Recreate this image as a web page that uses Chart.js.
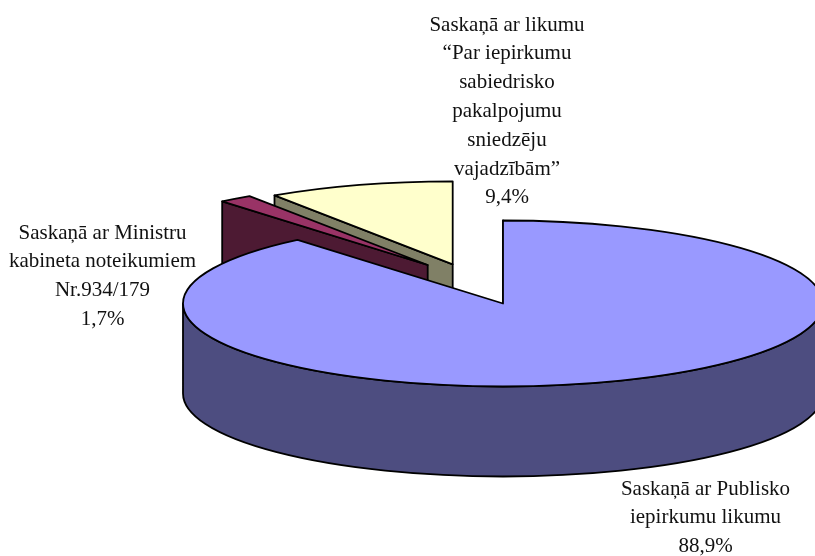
<!DOCTYPE html>
<html>
<head>
<meta charset="utf-8">
<title>Iepirkumi</title>
<script src="https://cdn.jsdelivr.net/npm/chart.js@4"></script>
<style>
    html, body { margin: 0; padding: 0; background: #fff; overflow: hidden; }
    canvas { display: block; }
</style>
</head>
<body>
<canvas id="pieChart" width="815" height="556"></canvas>
<script>
const categories = [
    'Saskaņā ar Publisko iepirkumu likumu',
    'Saskaņā ar Ministru kabineta noteikumiem Nr.934/179',
    'Saskaņā ar likumu “Par iepirkumu sabiedrisko pakalpojumu sniedzēju vajadzībām”',
];
const values = [88.9, 1.7, 9.4];

const labelLines = [
    ['Saskaņā ar Publisko', 'iepirkumu likumu'],
    ['Saskaņā ar Ministru', 'kabineta noteikumiem', 'Nr.934/179'],
    ['Saskaņā ar likumu', '“Par iepirkumu', 'sabiedrisko', 'pakalpojumu', 'sniedzēju', 'vajadzībām”'],
];

// styling of the fake 3d pie
const topColors = ['#9999ff', '#993366', '#ffffcc'];
const sideColors = ['#4d4d80', '#4d1a33', '#808066'];
const shiftX = [0, -75.3, -50.3];   // exploded slices
const shiftY = [0, -38.5, -39.2];
const squash = 83 / 320;
const depth = 90;
const labelPos = [[705.5, 489], [102.5, 233], [507, 25]];
const lineGap = 28.8;

function squashedArc(ctx, cx, cy, r, from, to) {
    // path gets squashed, the pen stays round
    ctx.save();
    ctx.translate(cx, cy);
    ctx.scale(1, squash);
    ctx.arc(0, 0, r, from, to, from > to);
    ctx.restore();
}

function drawSlice(ctx, arc, i) {
    const cx = arc.x + shiftX[i];
    const cy = arc.y + shiftY[i];
    const r = arc.outerRadius;
    const start = arc.startAngle;
    const end = arc.endAngle;

    // wall on the cut side of the slice
    const px = cx + r * Math.cos(start);
    const py = cy + r * squash * Math.sin(start);
    ctx.fillStyle = sideColors[i];
    ctx.beginPath();
    ctx.moveTo(px, py);
    ctx.lineTo(cx, cy);
    ctx.lineTo(cx, cy + depth);
    ctx.lineTo(px, py + depth);
    ctx.closePath();
    ctx.fill();
    ctx.stroke();

    // round wall, only the part that faces the viewer
    const from = Math.max(start, 0);
    const to = Math.min(end, Math.PI);
    if (to > from) {
        ctx.beginPath();
        squashedArc(ctx, cx, cy, r, from, to);
        squashedArc(ctx, cx, cy + depth, r, to, from);
        ctx.closePath();
        ctx.fill();
        ctx.stroke();
    }

    // top face comes from the arc element itself
    ctx.save();
    ctx.translate(cx, cy);
    ctx.scale(1, squash);
    ctx.translate(-arc.x, -arc.y);
    arc.draw(ctx);
    ctx.restore();

    ctx.beginPath();
    ctx.moveTo(cx, cy);
    squashedArc(ctx, cx, cy, r, start, end);
    ctx.closePath();
    ctx.stroke();
}

const pie3d = {
    id: 'pie3d',
    beforeDatasetDraw: function (chart) {
        const ctx = chart.ctx;
        const arcs = chart.getDatasetMeta(0).data;
        ctx.save();
        ctx.strokeStyle = '#000';
        ctx.lineWidth = 1.8;
        ctx.lineJoin = 'round';
        // back slices first
        for (let i = arcs.length - 1; i >= 0; i--) {
            drawSlice(ctx, arcs[i], i);
        }
        ctx.restore();
        return false;
    },
    afterDraw: function (chart) {
        const ctx = chart.ctx;
        ctx.save();
        ctx.fillStyle = '#111';
        ctx.font = '21px "Liberation Serif"';
        ctx.textAlign = 'center';
        ctx.textBaseline = 'middle';
        labelLines.forEach(function (lines, i) {
            const percent = values[i].toFixed(1).replace('.', ',') + '%';
            lines.concat(percent).forEach(function (line, n) {
                ctx.fillText(line, labelPos[i][0], labelPos[i][1] + n * lineGap);
            });
        });
        ctx.restore();
    },
};

new Chart(document.getElementById('pieChart').getContext('2d'), {
    type: 'pie',
    data: {
        labels: categories,
        datasets: [{
            data: values,
            backgroundColor: topColors,
            borderWidth: 0,
        }],
    },
    options: {
        responsive: false,
        animation: false,
        events: [],
        radius: 320,
        layout: { padding: { left: 191, top: 51 } },
        plugins: {
            legend: { display: false },
            tooltip: { enabled: false },
        },
    },
    plugins: [pie3d],
});
</script>
</body>
</html>
